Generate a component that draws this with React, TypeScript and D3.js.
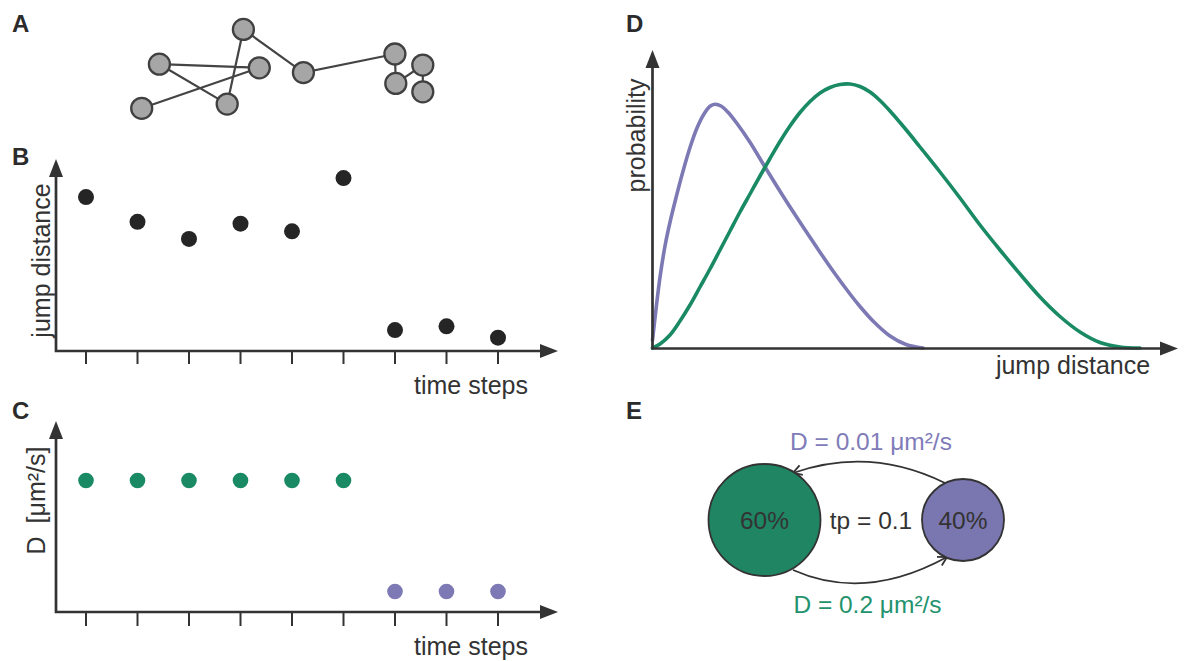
import React from 'react';
import * as d3 from 'd3';

// Panel A: example single-particle trajectory (arbitrary position units)
const trackX = [0.39, 4.31, 0.98, 3.24, 3.78, 5.78, 8.83, 8.86, 9.76, 9.76];
const trackY = [0.39, 1.74, 1.86, 0.53, 3.02, 1.58, 2.2, 1.22, 1.83, 0.94];

// Panel B: jump distance per time step
const timeSteps = [1, 2, 3, 4, 5, 6, 7, 8, 9];
const jumpDistances = [0.81, 0.68, 0.59, 0.67, 0.63, 0.91, 0.11, 0.13, 0.07];

// Panel C: hidden diffusion state per time step (µm²/s)
const stepStates = ['fast', 'fast', 'fast', 'fast', 'fast', 'fast', 'slow', 'slow', 'slow'];
const stepD = [0.2, 0.2, 0.2, 0.2, 0.2, 0.2, 0.01, 0.01, 0.01];

// Panel D: jump distance distributions of the two states
const slowDist = [0, 0.07, 0.15, 0.25, 0.35, 0.47, 0.61, 0.75, 0.89, 1.03, 1.15, 1.25, 1.37, 1.51, 1.69, 1.95, 2.25, 2.61, 2.95, 3.29, 3.61, 3.95, 4.15, 4.41, 4.75, 5.07, 5.41];
const slowProb = [0.032, 0.155, 0.283, 0.408, 0.503, 0.601, 0.707, 0.802, 0.88, 0.936, 0.967, 0.975, 0.968, 0.943, 0.898, 0.823, 0.724, 0.608, 0.503, 0.401, 0.308, 0.216, 0.166, 0.108, 0.048, 0.014, 0];
const fastDist = [0, 0.15, 0.35, 0.55, 0.75, 0.95, 1.15, 1.35, 1.55, 1.75, 1.95, 2.15, 2.35, 2.55, 2.75, 2.95, 3.15, 3.35, 3.55, 3.75, 3.95, 4.15, 4.35, 4.55, 4.75, 4.95, 5.15, 5.35, 5.75, 6.15, 6.55, 6.95, 7.35, 7.75, 8.15, 8.55, 8.95, 9.35, 9.75];
const fastProb = [0, 0.016, 0.052, 0.108, 0.172, 0.244, 0.316, 0.392, 0.468, 0.544, 0.616, 0.688, 0.758, 0.826, 0.888, 0.942, 0.986, 1.02, 1.042, 1.054, 1.056, 1.046, 1.024, 0.99, 0.948, 0.902, 0.854, 0.804, 0.704, 0.6, 0.492, 0.392, 0.296, 0.204, 0.126, 0.064, 0.022, 0.004, 0];

// Panel E: two-state model
const stateShares = [60, 40];
const stateLabels = ['60%', '40%'];
const stateDLabels = ['D = 0.2 μm²/s', 'D = 0.01 μm²/s'];
const transitionLabel = 'tp = 0.1';

const GREEN = '#1a8a65';
const GREEN_FILL = '#1f8563';
const GREEN_TEXT = '#23936e';
const PURPLE = '#7c79b4';
const PURPLE_FILL = '#7a76b0';
const PURPLE_TEXT = '#7f7cb9';
const INK = '#333333';
const FONT = '"Liberation Sans", Arial, Helvetica, sans-serif';

type AxesProps = { x0: number; y0: number; xTip: number; yTip: number; len?: number; half?: number };

function Axes({ x0, y0, xTip, yTip, len = 18, half = 7 }: AxesProps) {
  return (
    <g>
      <path
        d={`M${x0},${yTip + len - 2} L${x0},${y0} L${xTip - len + 2},${y0}`}
        fill="none"
        stroke={INK}
        strokeWidth={2.7}
        strokeLinejoin="miter"
      />
      <path d={`M${x0},${yTip} L${x0 + half},${yTip + len} L${x0 - half},${yTip + len} Z`} fill={INK} />
      <path d={`M${xTip},${y0} L${xTip - len},${y0 - half} L${xTip - len},${y0 + half} Z`} fill={INK} />
    </g>
  );
}

function chevron(tipX: number, tipY: number, fromX: number, fromY: number, size = 10) {
  const a = Math.atan2(tipY - fromY, tipX - fromX);
  const s = Math.PI / 6;
  const p1 = [tipX - size * Math.cos(a - s), tipY - size * Math.sin(a - s)];
  const p2 = [tipX - size * Math.cos(a + s), tipY - size * Math.sin(a + s)];
  return `M${p1[0]},${p1[1]} L${tipX},${tipY} L${p2[0]},${p2[1]}`;
}

export default function App() {
  // Panel A scales
  const xA = d3.scaleLinear().domain([0, 10]).range([130, 430]);
  const yA = d3.scaleLinear().domain([0, 3]).range([120, 30]);
  const track = trackX.map((x, i) => [xA(x), yA(trackY[i])] as [number, number]);
  const trackLine = d3.line()(track) || '';

  // Panels B and C share the time axis
  const xT = d3.scaleLinear().domain([1, 9]).range([86, 498]);
  const yB = d3.scaleLinear().domain([0, 1]).range([351, 161]);
  const yC = d3.scaleLinear().domain([-0.025, 0.3]).range([612, 422]);

  // Panel D scales
  const xD = d3.scaleLinear().domain([0, 10]).range([652.5, 1152.5]);
  const yD = d3.scaleLinear().domain([0, 1]).range([348, 98]);
  const curve = d3
    .line<[number, number]>()
    .x((d) => xD(d[0]))
    .y((d) => yD(d[1]))
    .curve(d3.curveCatmullRom.alpha(0.5));
  const slowPath = curve(slowDist.map((d, i) => [d, slowProb[i]] as [number, number])) || '';
  const fastPath = curve(fastDist.map((d, i) => [d, fastProb[i]] as [number, number])) || '';

  // Panel E: circle size follows the state share
  const rE = d3.scaleLinear().domain([40, 60]).range([41, 56]);
  const cy = 520;
  const cxFast = 764.5;
  const cxSlow = 963;

  const topArc = { x0: 945, y0: 483, cx: 870, cy: 446, x1: 793, y1: 473 };
  const botArc = { x0: 793, y0: 570, cx: 865, cy: 602, x1: 947, y1: 557 };

  const tickY0 = 351;
  const tickYC = 612;

  return (
    <svg
      width={1184}
      height={661}
      viewBox="0 0 1184 661"
      style={{ position: 'absolute', left: 0, top: 0, display: 'block', background: '#fff' }}
      fontFamily={FONT}
    >
      <rect x={0} y={0} width={1184} height={661} fill="#fff" />

      {/* Panel letters */}
      <g fontWeight="bold" fontSize={24} fill="#2b2b2b">
        <text x={12} y={32}>A</text>
        <text x={12} y={165}>B</text>
        <text x={12} y={419}>C</text>
        <text x={626} y={32}>D</text>
        <text x={626} y={419}>E</text>
      </g>

      {/* A: trajectory */}
      <path d={trackLine} fill="none" stroke="#444" strokeWidth={2.2} />
      {track.map(([x, y], i) => (
        <circle key={i} cx={x} cy={y} r={10.5} fill="#a6a6a6" stroke="#404040" strokeWidth={2.3} />
      ))}

      {/* B: jump distances */}
      <Axes x0={56} y0={351} xTip={558} yTip={159} />
      {timeSteps.map((t) => (
        <line key={t} x1={xT(t)} x2={xT(t)} y1={tickY0 + 1} y2={tickY0 + 13} stroke={INK} strokeWidth={2} />
      ))}
      {timeSteps.map((t, i) => (
        <circle key={t} cx={xT(t)} cy={yB(jumpDistances[i])} r={8} fill="#252525" />
      ))}
      <text x={471} y={394} fontSize={25} fill={INK} textAnchor="middle">time steps</text>
      <text transform="translate(50,260.5) rotate(-90)" fontSize={25} fill={INK} textAnchor="middle">
        jump distance
      </text>

      {/* C: diffusion coefficient per step */}
      <Axes x0={56} y0={612} xTip={558} yTip={421} />
      {timeSteps.map((t) => (
        <line key={t} x1={xT(t)} x2={xT(t)} y1={tickYC + 1} y2={tickYC + 14} stroke={INK} strokeWidth={2} />
      ))}
      {timeSteps.map((t, i) => (
        <circle
          key={t}
          cx={xT(t)}
          cy={yC(stepD[i])}
          r={7.8}
          fill={stepStates[i] === 'fast' ? GREEN : PURPLE}
        />
      ))}
      <text x={471} y={655} fontSize={25} fill={INK} textAnchor="middle">time steps</text>
      <text transform="translate(45,500.5) rotate(-90)" fontSize={25} fill={INK} textAnchor="middle">
        D<tspan dx={13}>[μm²/s]</tspan>
      </text>

      {/* D: jump distance distributions */}
      <path d={slowPath} fill="none" stroke={PURPLE} strokeWidth={3.6} strokeLinejoin="round" strokeLinecap="round" />
      <path d={fastPath} fill="none" stroke={GREEN} strokeWidth={3.6} strokeLinejoin="round" strokeLinecap="round" />
      <Axes x0={652.5} y0={348.5} xTip={1178} yTip={50} half={7} />
      <text x={1073} y={374} fontSize={25} fill={INK} textAnchor="middle">jump distance</text>
      <text transform="translate(645,135.5) rotate(-90)" fontSize={25} fill={INK} textAnchor="middle">
        probability
      </text>

      {/* E: two-state model */}
      <path
        d={`M${topArc.x0},${topArc.y0} Q${topArc.cx},${topArc.cy} ${topArc.x1},${topArc.y1}`}
        fill="none"
        stroke={INK}
        strokeWidth={1.8}
      />
      <path d={chevron(topArc.x1, topArc.y1, topArc.cx, topArc.cy)} fill="none" stroke={INK} strokeWidth={1.8} />
      <path
        d={`M${botArc.x0},${botArc.y0} Q${botArc.cx},${botArc.cy} ${botArc.x1},${botArc.y1}`}
        fill="none"
        stroke={INK}
        strokeWidth={1.8}
      />
      <path d={chevron(botArc.x1, botArc.y1, botArc.cx, botArc.cy)} fill="none" stroke={INK} strokeWidth={1.8} />

      <circle cx={cxFast} cy={cy} r={rE(stateShares[0])} fill={GREEN_FILL} stroke={INK} strokeWidth={1.8} />
      <circle cx={cxSlow} cy={cy} r={rE(stateShares[1])} fill={PURPLE_FILL} stroke={INK} strokeWidth={1.8} />
      <text x={cxFast} y={528.5} fontSize={24.5} fill={INK} textAnchor="middle">{stateLabels[0]}</text>
      <text x={cxSlow} y={528.5} fontSize={24.5} fill={INK} textAnchor="middle">{stateLabels[1]}</text>
      <text x={871} y={528.5} fontSize={24.5} fill={INK} textAnchor="middle">{transitionLabel}</text>
      <text x={871} y={450} fontSize={24.5} fill={PURPLE_TEXT} textAnchor="middle">{stateDLabels[1]}</text>
      <text x={867.5} y={613} fontSize={24.5} fill={GREEN_TEXT} textAnchor="middle">{stateDLabels[0]}</text>
    </svg>
  );
}
